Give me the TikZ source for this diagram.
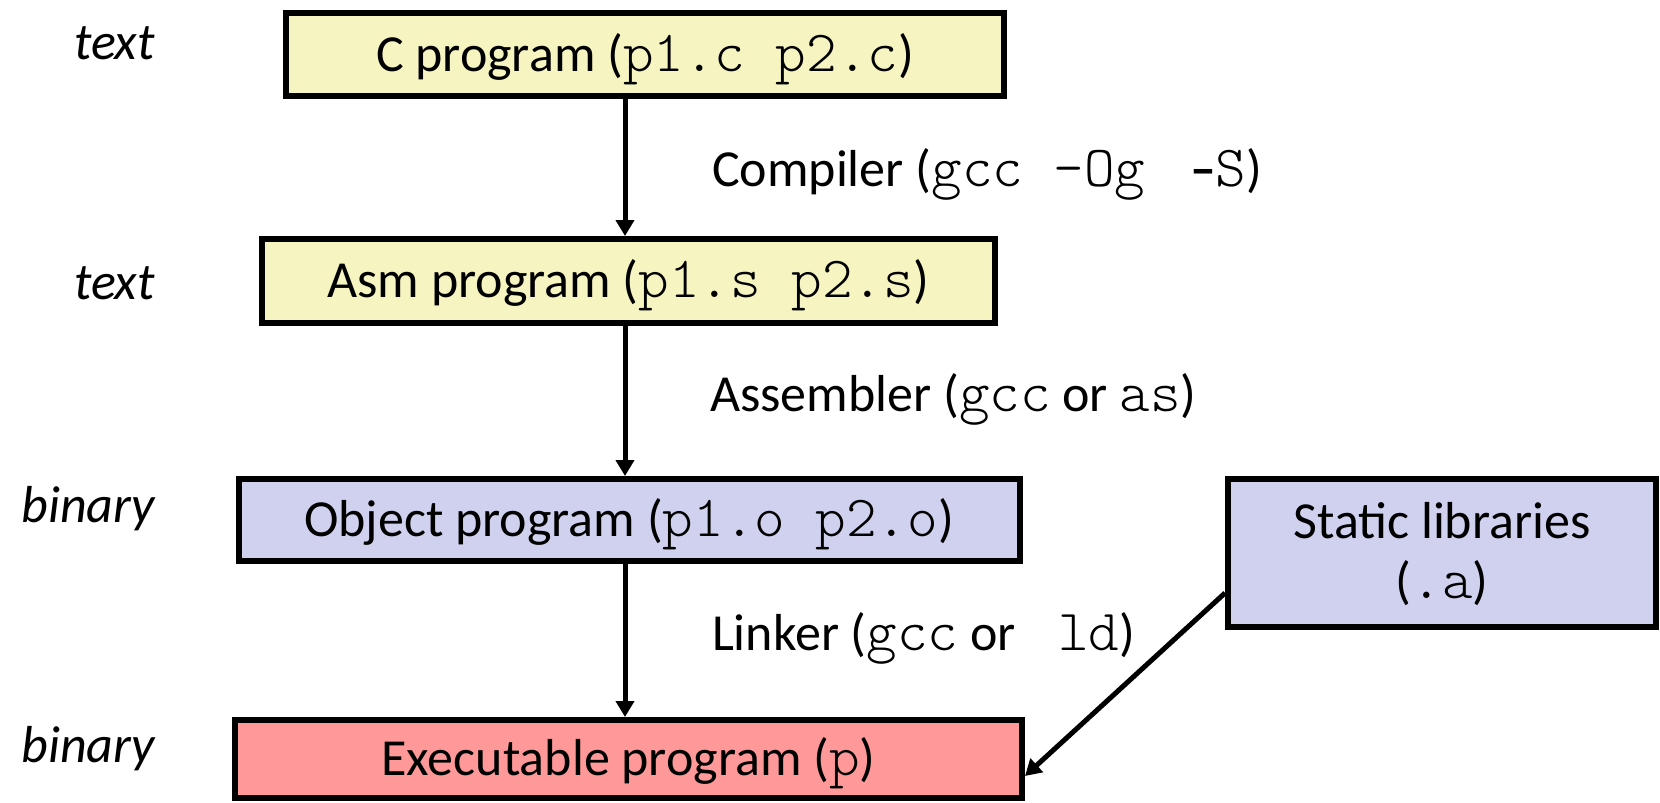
\documentclass[tikz,border=0pt]{standalone}
\usepackage{fontspec}
\setmainfont{Carlito}
\newfontfamily\codefont{Latin Modern Mono Light}[Scale=1.12]
\newcommand{\code}[1]{{\codefont #1}}
\newcommand{\bodysize}{\fontsize{26pt}{30pt}\selectfont}
\usetikzlibrary{arrows.meta}
\definecolor{textfill}{HTML}{F6F4C0}
\definecolor{objfill}{HTML}{D0D1EE}
\definecolor{exefill}{HTML}{FF9999}
\tikzset{
  stage/.style={draw, line width=3pt, inner sep=0pt, align=center,
                text height=16.7pt, text depth=0pt},
  flow/.style={line width=2.5pt, -{Triangle[length=8pt,width=9pt]}},
  kind/.style={anchor=base east, font=\bodysize\itshape},
  tool/.style={anchor=base west}
}
\begin{document}
\begin{tikzpicture}[x=0.5pt, y=-0.5pt, font=\bodysize]
\useasboundingbox (0,0) rectangle (1660,803);

\node[stage, fill=textfill, minimum width=359pt, minimum height=41.5pt] (cprog) at (645,54.5) {C program (\code{p1.c p2.c})};
\node[stage, fill=textfill, minimum width=366.5pt, minimum height=42pt] (asm) at (628.5,281) {Asm program (\code{p1.s p2.s})};
\node[stage, fill=objfill, minimum width=390.5pt, minimum height=41pt] (obj) at (629,520) {Object program (\code{p1.o p2.o})};
\node[stage, fill=exefill, minimum width=393.5pt, minimum height=39pt] (exec) at (628.5,759) {Executable program (\code{p})};
\node[stage, fill=objfill, minimum width=214pt, minimum height=74pt, text height=45pt] (static) at (1442,553) {Static libraries\\(\code{.a})};

\node[kind] (kind1) at (162,59) {text};
\node[kind] (kind2) at (162,299) {text};
\node[kind] (kind3) at (162,522) {binary};
\node[kind] (kind4) at (162,762) {binary};

\node[tool] (compiler) at (705,186) {Compiler (\code{gcc –Og\ }\hspace{7pt}\textbf{–}\code{S})};
\node[tool] (assembler) at (703,411) {Assembler (\code{gcc} or \code{as})};
\node[tool] (linker) at (705,650) {Linker (\code{gcc} or \code{\ ld})};

\coordinate (spine) at (625,0);
\draw[flow] (cprog.south -| spine) -- (asm.north -| spine);
\draw[flow] (asm.south -| spine) -- (obj.north -| spine);
\draw[flow] (obj.south -| spine) -- (exec.north -| spine);
\draw[flow] ([yshift=-20pt]static.west) -- ([yshift=-8.5pt]exec.east);
\end{tikzpicture}
\end{document}
